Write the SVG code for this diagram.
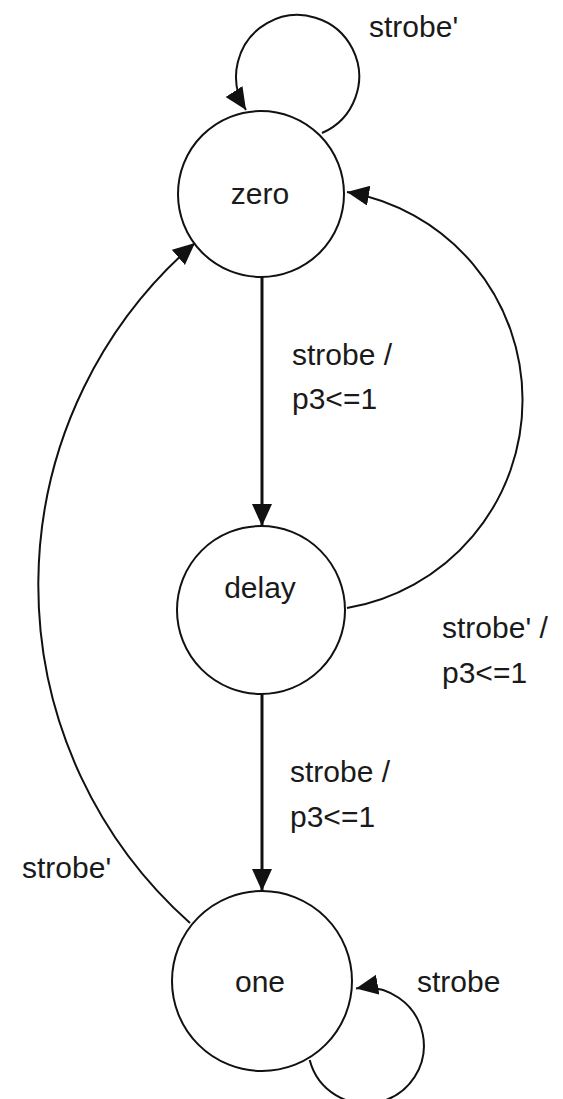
<svg xmlns="http://www.w3.org/2000/svg" width="563" height="1099" viewBox="0 0 563 1099">
  <style>
    .state { fill: #ffffff; stroke: #111111; stroke-width: 2; }
    .edge { fill: none; stroke: #111111; stroke-width: 2; marker-end: url(#head); }
    .edge.straight { stroke-width: 3; }
    .label { font-family: "Liberation Sans", Arial, sans-serif; font-size: 30px; fill: #1a1a1a; }
    .name { text-anchor: middle; }
  </style>
  <defs>
    <marker id="head" markerUnits="userSpaceOnUse" markerWidth="24" markerHeight="22" refX="22" refY="10" orient="auto">
      <path d="M0,0 L22,10 L0,20 z" fill="#111111"/>
    </marker>
  </defs>
  <rect width="563" height="1099" fill="#ffffff"/>

  <g id="connectors">
    <!-- zero self-loop: strobe' -->
    <path class="edge" d="M322,133 A61.5,61.5 0 1 0 246,110"/>
    <!-- zero -> delay -->
    <path class="edge straight" d="M262,277 L262,526"/>
    <!-- delay -> zero -->
    <path class="edge" d="M347,608 A211,211 0 0 0 347,192"/>
    <!-- delay -> one -->
    <path class="edge straight" d="M262,694 L262,891"/>
    <!-- one -> zero -->
    <path class="edge" d="M190,923 A452,452 0 0 1 195,243"/>
    <!-- one self-loop: strobe -->
    <path class="edge" d="M309.7,1060 A58,58 0 1 0 356,988.4"/>
  </g>

  <g id="node-zero">
    <circle class="state" cx="261" cy="194" r="83"/>
    <text class="label name" x="260" y="204">zero</text>
  </g>
  <g id="node-delay">
    <circle class="state" cx="261" cy="610" r="84"/>
    <text class="label name" x="260" y="598">delay</text>
  </g>
  <g id="node-one">
    <circle class="state" cx="262" cy="981" r="90"/>
    <text class="label name" x="260" y="992">one</text>
  </g>

  <g id="edge-labels">
    <text class="label" x="369" y="37">strobe'</text>
    <text class="label" x="292" y="365">strobe /</text>
    <text class="label" x="292" y="409">p3&lt;=1</text>
    <text class="label" x="442" y="638">strobe' /</text>
    <text class="label" x="442" y="683">p3&lt;=1</text>
    <text class="label" x="290" y="782">strobe /</text>
    <text class="label" x="290" y="827">p3&lt;=1</text>
    <text class="label" x="22" y="878">strobe'</text>
    <text class="label" x="417" y="992">strobe</text>
  </g>
</svg>
